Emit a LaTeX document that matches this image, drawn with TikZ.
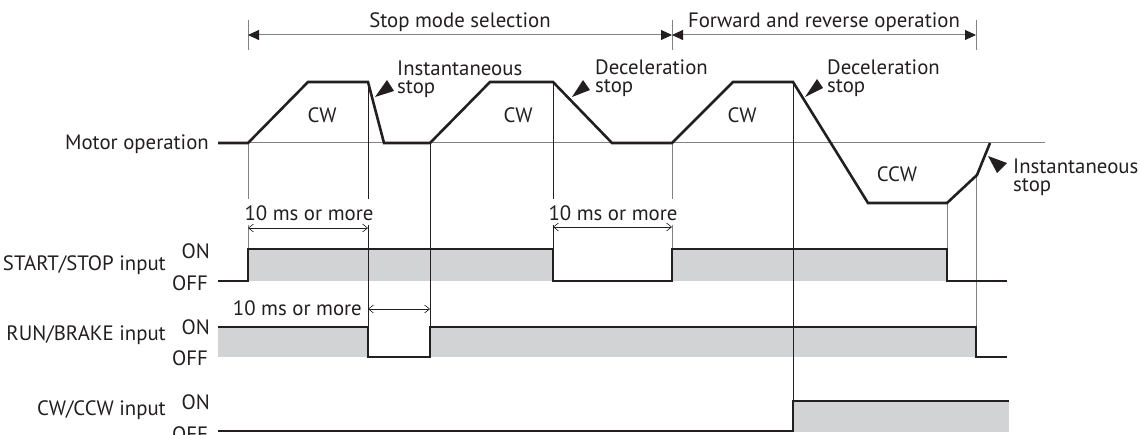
\documentclass[tikz,border=0pt]{standalone}
\usepackage{fontspec}
\setmainfont{PT Sans}
\usetikzlibrary{arrows.meta}
\definecolor{ink}{HTML}{231F20}
\definecolor{guide}{HTML}{808285}
\definecolor{band}{HTML}{D1D3D4}
\begin{document}
\begin{tikzpicture}[x=1pt,y=-1pt,
  trace/.style={ink, line width=2.6pt, line join=miter},
  guideline/.style={guide, line width=1pt},
  blackline/.style={ink, line width=0.9pt},
  lbl/.style={text=ink, font=\fontsize{20.8}{17.5}\selectfont, inner sep=0pt},
  dimfill/.style={guide, line width=1pt, {Triangle[length=11pt,width=10pt,color=ink]}-{Triangle[length=11pt,width=10pt,color=ink]}},
  dimopen/.style={ink, line width=0.6pt, {Straight Barb[length=5pt,width=8pt]}-{Straight Barb[length=5pt,width=8pt]}},
  callout/.style={fill=ink}
]
\useasboundingbox (0,0) rectangle (1140,435);

% gray bands (ON state)
\fill[band] (248,249) rectangle (553,281);
\fill[band] (672,249) rectangle (947,281);
\fill[band] (218,327) rectangle (368,357);
\fill[band] (430,327) rectangle (976,357);
\fill[band] (793,401) rectangle (1009,432);

% top dimension lines
\draw[guideline] (248,20) -- (248,50);
\draw[guideline] (672,20) -- (672,50);
\draw[guideline] (976,20) -- (976,50);
\coordinate (d1) at (248,35);
\coordinate (d2) at (672,35);
\coordinate (d3) at (976,35);
\draw[dimfill] (d1) -- (d2);
\draw[dimfill] (d2) -- (d3);
\node[lbl] (stopmode) at (460,22) {Stop mode selection};
\node[lbl] (fwdrev) at (824,22) {Forward and reverse operation};

% zero line
\draw[guideline] (248,143) -- (1045,143);

% vertical guides
\draw[guideline] (248,143) -- (248,199) (248,225) -- (248,249);
\draw[blackline] (368,82) -- (368,199) (368,225) -- (368,327);
\draw[blackline] (430,143) -- (430,327);
\draw[blackline] (553,82) -- (553,199) (553,225) -- (553,249);
\draw[guideline] (672,143) -- (672,199) (672,225) -- (672,249);
\draw[blackline] (793,82) -- (793,401);
\draw[guideline] (947,203) -- (947,249);
\draw[guideline] (976,175) -- (976,327);

% motor trace
\draw[trace] (218,143) -- (248,143) -- (308,82) -- (368,82) -- (384,143)
  -- (430,143) -- (490,82) -- (553,82) -- (612,143) -- (672,143)
  -- (733,82) -- (793,82) -- (868,203) -- (947,203) -- (977,175) -- (990,143);

% signal traces
\draw[trace] (218,281) -- (248,281) -- (248,249) -- (553,249) -- (553,281)
  -- (672,281) -- (672,249) -- (947,249) -- (947,281) -- (1007,281);
\draw[trace] (218,327) -- (368,327) -- (368,357) -- (430,357) -- (430,327)
  -- (976,327) -- (976,357) -- (1007,357);
\draw[trace] (218,431) -- (793,431) -- (793,401) -- (1009,401);

% 10 ms dimensions
\draw[dimopen] (248,228) -- (368,228);
\node[lbl] (ms1) at (309,213) {10 ms or more};
\draw[dimopen] (553,227) -- (672,227);
\node[lbl] (ms2) at (613,213) {10 ms or more};
\draw[dimopen] (368,309) -- (430,309);
\node[lbl, anchor=east] (ms3) at (362,308) {10 ms or more};

% callout wedges
\fill[callout] (375,97) -- (387,80) -- (394,91) -- cycle;
\fill[callout] (572,97) -- (583,80) -- (590,90) -- cycle;
\fill[callout] (805,97) -- (817,79) -- (823,88) -- cycle;
\fill[callout] (988,156) -- (1007,163) -- (997,173) -- cycle;

\node[lbl, anchor=north west, align=left] (inst1) at (397,61) {Instantaneous\\stop};
\node[lbl, anchor=north west, align=left] (dec1) at (595,60) {Deceleration\\stop};
\node[lbl, anchor=north west, align=left] (dec2) at (827,60) {Deceleration\\stop};
\node[lbl, anchor=north west, align=left] (inst2) at (1013,159) {Instantaneous\\stop};

% region labels
\node[lbl] (cw1) at (322,115) {CW};
\node[lbl] (cw2) at (518,115) {CW};
\node[lbl] (cw3) at (742,115) {CW};
\node[lbl] (ccw) at (897,174) {CCW};

% row labels
\node[lbl, anchor=east] (motor) at (209,144) {Motor operation};
\node[lbl, anchor=east] (ss) at (166,265) {START/STOP input};
\node[lbl, anchor=east] (ssOn) at (210,251) {ON};
\node[lbl, anchor=east] (ssOff) at (208,283) {OFF};
\node[lbl, anchor=east] (rb) at (166,335) {RUN/BRAKE input};
\node[lbl, anchor=east] (rbOn) at (210,327) {ON};
\node[lbl, anchor=east] (rbOff) at (208,358) {OFF};
\node[lbl, anchor=east] (cc) at (166,410) {CW/CCW input};
\node[lbl, anchor=east] (ccOn) at (210,402) {ON};
\node[lbl, anchor=east] (ccOff) at (208,434) {OFF};
\end{tikzpicture}
\end{document}
